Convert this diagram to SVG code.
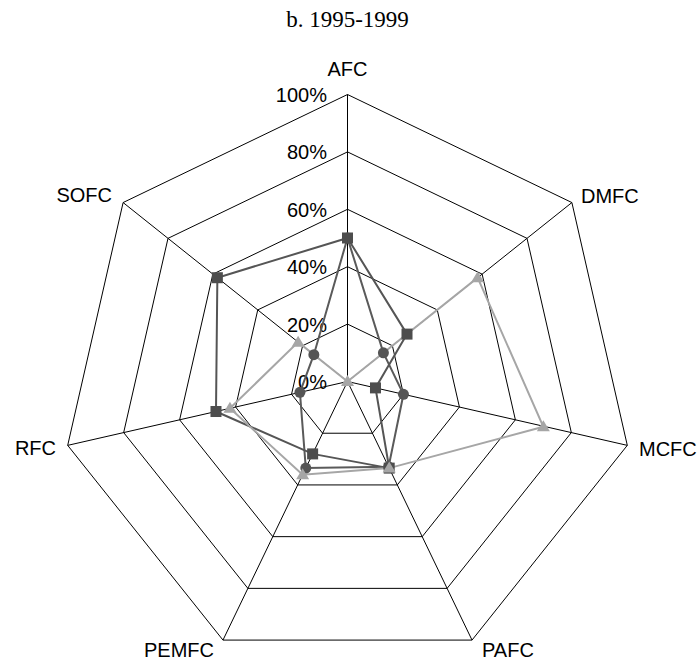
<svg xmlns="http://www.w3.org/2000/svg" width="699" height="660" viewBox="0 0 699 660">
<style>
.grid{fill:none;stroke:#000;stroke-width:1}
.lbl{font-family:"Liberation Sans",Arial,sans-serif;font-size:20px;fill:#000}
.pct{font-family:"Liberation Sans",Arial,sans-serif;font-size:20px;fill:#000;text-anchor:end}
.title{font-family:"Liberation Serif","Times New Roman",serif;font-size:23px;fill:#000;text-anchor:middle}
.sq{fill:none;stroke:#555;stroke-width:2}
.ci{fill:none;stroke:#5a5a5a;stroke-width:2}
.tr{fill:none;stroke:#a6a6a6;stroke-width:2}
.msq{fill:#4d4d4d}
.mci{fill:#555}
.mtr{fill:#a6a6a6}
</style>
<defs>
<rect id="square" x="-5.5" y="-5.5" width="11" height="11"/>
<circle id="dot" r="5.5"/>
<polygon id="tri" points="0,-6.5 6.5,4.5 -6.5,4.5"/>
</defs>
<rect width="699" height="660" fill="#fff"/>
<text class="title" x="347.5" y="27">b. 1995-1999</text>
<g id="grid">
<polygon class="grid" points="347.5,94.5 571.88,202.56 627.3,445.36 472.02,640.08 222.98,640.08 67.7,445.36 123.12,202.56"/>
<polygon class="grid" points="347.5,151.9 527,238.35 571.34,432.59 447.12,588.36 247.88,588.36 123.66,432.59 168,238.35"/>
<polygon class="grid" points="347.5,209.3 482.13,274.14 515.38,419.82 422.21,536.65 272.79,536.65 179.62,419.82 212.87,274.14"/>
<polygon class="grid" points="347.5,266.7 437.25,309.92 459.42,407.04 397.31,484.93 297.69,484.93 235.58,407.04 257.75,309.92"/>
<polygon class="grid" points="347.5,324.1 392.38,345.71 403.46,394.27 372.4,433.22 322.6,433.22 291.54,394.27 302.62,345.71"/>
<path class="grid" d="M347.5,381.5L347.5,94.5M347.5,381.5L571.88,202.56M347.5,381.5L627.3,445.36M347.5,381.5L472.02,640.08M347.5,381.5L222.98,640.08M347.5,381.5L67.7,445.36M347.5,381.5L123.12,202.56"/>
</g>
<g id="scale">
<text class="pct" x="327" y="101.5">100%</text>
<text class="pct" x="327" y="159">80%</text>
<text class="pct" x="327" y="216.5">60%</text>
<text class="pct" x="327" y="274">40%</text>
<text class="pct" x="327" y="331.5">20%</text>
<text class="pct" x="327" y="389">0%</text>
</g>
<g id="labels">
<g id="AFC"><text class="lbl" x="347.5" y="76" text-anchor="middle">AFC</text></g>
<g id="DMFC"><text class="lbl" x="581" y="203">DMFC</text></g>
<g id="MCFC"><text class="lbl" x="639" y="456">MCFC</text></g>
<g id="PAFC"><text class="lbl" x="482" y="657">PAFC</text></g>
<g id="PEMFC"><text class="lbl" x="214" y="657" text-anchor="end">PEMFC</text></g>
<g id="RFC"><text class="lbl" x="56" y="455" text-anchor="end">RFC</text></g>
<g id="SOFC"><text class="lbl" x="112" y="202" text-anchor="end">SOFC</text></g>
</g>
<g id="connectors">
<polygon class="ci" points="347.5,238 383.4,352.87 403.46,394.27 388.6,466.8 305.79,468.1 299.93,392.36 313.84,354.66"/>
<polygon class="sq" points="347.5,238 407,334.1 375.48,387.89 389.21,468.12 312.63,453.9 215.99,411.51 217.36,277.71"/>
<polygon class="tr" points="347.5,381.5 477.64,277.71 543.36,426.8 389.21,468.12 302.63,474.67 229.98,408.33 298.13,342.13"/>
</g>
<g id="series-circles" class="mci">
<use href="#dot" x="347.5" y="238"/>
<use href="#dot" x="383.4" y="352.87"/>
<use href="#dot" x="403.46" y="394.27"/>
<use href="#dot" x="388.6" y="466.8"/>
<use href="#dot" x="305.79" y="468.1"/>
<use href="#dot" x="299.93" y="392.36"/>
<use href="#dot" x="313.84" y="354.66"/>
</g>
<g id="series-squares" class="msq">
<use href="#square" x="347.5" y="238"/>
<use href="#square" x="407" y="334.1"/>
<use href="#square" x="375.48" y="387.89"/>
<use href="#square" x="389.21" y="468.12"/>
<use href="#square" x="312.63" y="453.9"/>
<use href="#square" x="215.99" y="411.51"/>
<use href="#square" x="217.36" y="277.71"/>
</g>
<g id="series-triangles" class="mtr">
<use href="#tri" x="347.5" y="381.5"/>
<use href="#tri" x="477.64" y="277.71"/>
<use href="#tri" x="543.36" y="426.8"/>
<use href="#tri" x="389.21" y="468.12"/>
<use href="#tri" x="302.63" y="474.67"/>
<use href="#tri" x="229.98" y="408.33"/>
<use href="#tri" x="298.13" y="342.13"/>
</g>
</svg>
